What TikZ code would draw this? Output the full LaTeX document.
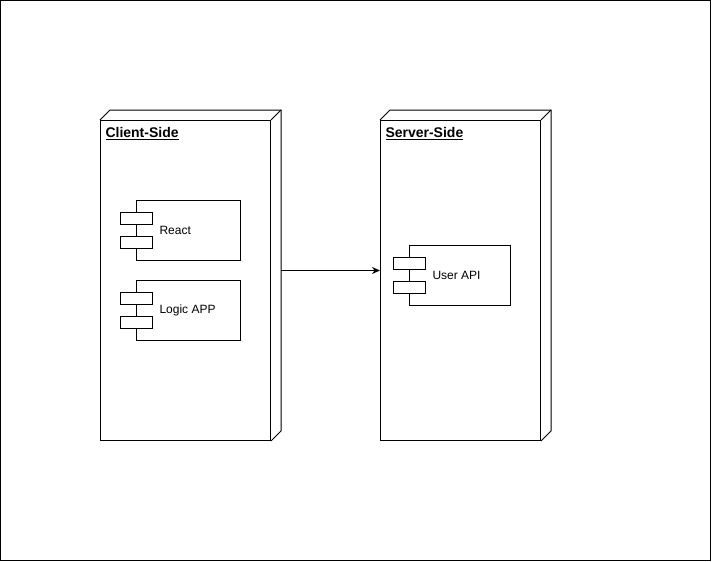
\documentclass[tikz,border=0pt]{standalone}
\usepackage{fontspec}
\setmainfont{Liberation Sans}
\usetikzlibrary{arrows.meta}

\tikzset{
	boxnode/.style={draw, minimum height=320pt, inner sep=0pt},
	boxtitle/.style={anchor=base west, inner sep=0pt, font=\fontsize{14}{16}\selectfont\bfseries},
	compbody/.style={draw, fill=white, minimum width=104pt, minimum height=60pt, inner sep=0pt},
	compport/.style={draw, fill=white, minimum width=32pt, minimum height=12pt, inner sep=0pt},
	complabel/.style={anchor=west, inner sep=0pt, font=\fontsize{12}{14}\selectfont},
	flow/.style={-{Stealth[length=8pt,width=7pt]}},
}

\begin{document}
\begin{tikzpicture}[x=1pt, y=-1pt, line width=1pt]
	\useasboundingbox (0,0) rectangle (712,562);
	\draw (0.5,0.5) rectangle (710.5,560.5);
	% client side
	\node[boxnode, minimum width=170pt] (client) at (185.5,280.5) {};
	\draw (client.north west) -- ++(10,-10) -- ([shift={(10,-10)}]client.north east)
		-- ([shift={(10,-10)}]client.south east) -- (client.south east);
	\draw (client.north east) -- ++(10,-10);
	\node[boxtitle] (clienttitle) at (105,137.5) {\underline{Client-Side}};
	\node[compbody] (react) at (188.5,230.5) {};
	\node[compport] at ([yshift=12pt]react.west) {};
	\node[compport] at ([yshift=-12pt]react.west) {};
	\node[complabel] (reactlabel) at ([xshift=23pt]react.west) {React};
	\node[compbody] (logic) at (188.5,310.5) {};
	\node[compport] at ([yshift=12pt]logic.west) {};
	\node[compport] at ([yshift=-12pt]logic.west) {};
	\node[complabel] (logiclabel) at ([xshift=23pt]logic.west) {Logic APP};
	% server side
	\node[boxnode, minimum width=160pt] (server) at (460.5,280.5) {};
	\draw (server.north west) -- ++(10,-10) -- ([shift={(10,-10)}]server.north east)
		-- ([shift={(10,-10)}]server.south east) -- (server.south east);
	\draw (server.north east) -- ++(10,-10);
	\node[boxtitle] (servertitle) at (385,137.5) {\underline{Server-Side}};
	\node[compbody, minimum width=101pt] (userapi) at (460,275.5) {};
	\node[compport] at ([yshift=12pt]userapi.west) {};
	\node[compport] at ([yshift=-12pt]userapi.west) {};
	\node[complabel] (userapilabel) at ([xshift=23pt]userapi.west) {User API};
	% connector
	\coordinate (clientback) at ([shift={(10,-10)}]client.east);
	\draw[flow] (clientback) -- (clientback -| server.west);
\end{tikzpicture}
\end{document}
